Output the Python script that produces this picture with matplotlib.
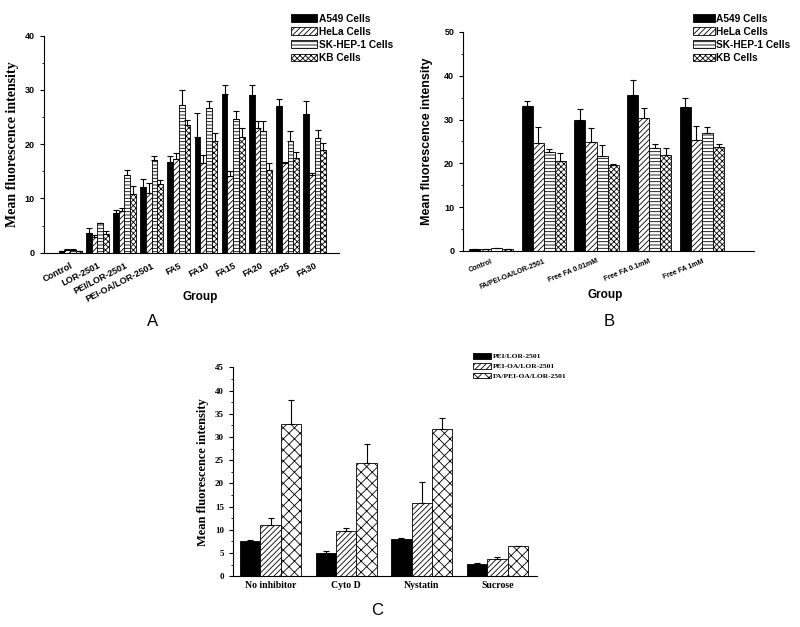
import numpy as np
import matplotlib
matplotlib.use("Agg")
import matplotlib.pyplot as plt

plt.rcParams["hatch.linewidth"] = 0.6

SANS = "Liberation Sans"
SERIF = "Liberation Serif"

# ─── PANEL A DATA ─────────────────────────────────────────────────────────────
groups_a = ["Control", "LOR-2501", "PEI/LOR-2501", "PEI-OA/LOR-2501",
            "FA5", "FA10", "FA15", "FA20", "FA25", "FA30"]
a549_a     = [0.3, 3.7, 7.4, 12.1, 16.8, 21.4, 29.3, 29.0, 27.1, 25.6]
a549_a_err = [0.1, 0.9, 0.5, 1.4, 1.0, 4.3, 1.7, 2.0, 1.3, 2.4]
hela_a     = [0.5, 2.9, 7.6, 11.0, 17.3, 16.5, 14.2, 23.0, 16.5, 14.4]
hela_a_err = [0.1, 0.4, 0.7, 1.9, 1.0, 1.6, 0.8, 1.3, 0.2, 0.2]
sk_a       = [0.5, 5.4, 14.3, 17.1, 27.3, 26.7, 24.7, 22.5, 20.5, 21.1]
sk_a_err   = [0.1, 0.1, 0.9, 0.8, 2.7, 1.2, 1.4, 1.8, 2.0, 1.6]
kb_a       = [0.3, 3.5, 10.8, 12.6, 23.5, 20.5, 21.4, 15.2, 17.5, 18.9]
kb_a_err   = [0.1, 0.5, 1.5, 0.8, 1.0, 1.5, 1.5, 1.3, 1.0, 1.3]

# ─── PANEL B DATA ─────────────────────────────────────────────────────────────
groups_b = ["Control", "FA/PEI-OA/LOR-2501", "Free FA 0.01mM",
            "Free FA 0.1mM", "Free FA 1mM"]
a549_b     = [0.3, 33.0, 30.0, 35.6, 32.9]
a549_b_err = [0.1, 1.3, 2.4, 3.4, 2.1]
hela_b     = [0.4, 24.6, 24.8, 30.3, 25.4]
hela_b_err = [0.1, 3.6, 3.3, 2.3, 3.1]
sk_b       = [0.6, 22.5, 21.7, 23.6, 27.0]
sk_b_err   = [0.1, 0.7, 2.4, 0.7, 1.4]
kb_b       = [0.4, 20.6, 19.5, 21.9, 23.7]
kb_b_err   = [0.1, 1.7, 0.4, 1.5, 0.6]

# ─── PANEL C DATA ─────────────────────────────────────────────────────────────
groups_c = ["No inhibitor", "Cyto D", "Nystatin", "Sucrose"]
pei_c       = [7.5, 5.0, 8.0, 2.7]
pei_c_err   = [0.2, 0.4, 0.3, 0.2]
peioa_c     = [11.1, 9.7, 15.8, 3.8]
peioa_c_err = [1.5, 0.7, 4.4, 0.4]
fa_c        = [32.9, 24.3, 31.7, 6.5]
fa_c_err    = [5.1, 4.2, 2.5, 0.1]

cell_labels = ["A549 Cells", "HeLa Cells", "SK-HEP-1 Cells", "KB Cells"]
cell_styles = [("black", None), ("white", "//////"), ("white", "-----"), ("white", "xxxxxx")]
c_labels = ["PEI/LOR-2501", "PEI-OA/LOR-2501", "FA/PEI-OA/LOR-2501"]
c_styles = [("black", None), ("white", "//////"), ("white", "xxx")]


def draw_bars(ax, series, errs, labels, styles, width):
    n = len(series)
    x = np.arange(len(series[0]))
    for i, (vals, err, lab, (fc, hatch)) in enumerate(zip(series, errs, labels, styles)):
        pos = x + (i - (n - 1) / 2) * width
        vals = np.array(vals)
        err = np.array(err)
        ax.bar(pos, vals, width, color=fc, edgecolor="black", hatch=hatch,
               linewidth=0.6, label=lab, zorder=2)
        ax.errorbar(pos, vals, yerr=[np.zeros_like(err), err], fmt="none",
                    ecolor="black", elinewidth=0.8, capsize=2, capthick=0.8, zorder=3)
    return x


def style_axes(ax, family, tsize):
    ax.spines["top"].set_visible(False)
    ax.spines["right"].set_visible(False)
    ax.tick_params(axis="x", length=0)
    ax.tick_params(axis="y", which="major", length=3, width=0.8, direction="out")
    ax.tick_params(axis="y", which="minor", length=1.5, width=0.6, direction="out")
    for lab in ax.get_yticklabels():
        lab.set_fontfamily(family)
        lab.set_fontweight("bold")
        lab.set_fontsize(tsize)


fig = plt.figure(figsize=(8, 6.27), dpi=100)

# ─── PANEL A ──────────────────────────────────────────────────────────────────
axA = fig.add_axes([0.055, 0.597, 0.369, 0.346])
x = draw_bars(axA, [a549_a, hela_a, sk_a, kb_a],
              [a549_a_err, hela_a_err, sk_a_err, kb_a_err],
              cell_labels, cell_styles, 0.21)
axA.set_xlim(-0.96, 9.9)
axA.set_ylim(0, 40)
axA.set_yticks([0, 10, 20, 30, 40])
axA.set_yticks([5, 15, 25, 35], minor=True)
axA.set_xticks(x)
axA.set_xticklabels(groups_a, rotation=27, ha="right", rotation_mode="anchor",
                    fontfamily=SANS, fontweight="bold", fontsize=6.5)
axA.tick_params(axis="x", pad=6)
style_axes(axA, SANS, 6.5)
axA.set_ylabel("Mean fluorescence intensity", fontfamily=SERIF, fontweight="bold", fontsize=10)
axA.set_xlabel("Group", fontfamily=SANS, fontweight="bold", fontsize=8.5)
axA.xaxis.set_label_coords(0.53, -0.175)
axA.legend(loc="upper left", bbox_to_anchor=(0.364, 0.978), bbox_transform=fig.transFigure,
           frameon=False, handlelength=2.55, handleheight=0.8, labelspacing=0.3,
           handletextpad=0.15, borderaxespad=0, borderpad=0,
           prop={"family": SANS, "weight": "bold", "size": 7.3})
fig.text(0.191, 0.488, "A", ha="center", va="center", fontfamily=SANS, fontsize=12)

# ─── PANEL B ──────────────────────────────────────────────────────────────────
axB = fig.add_axes([0.579, 0.6, 0.363, 0.349])
x = draw_bars(axB, [a549_b, hela_b, sk_b, kb_b],
              [a549_b_err, hela_b_err, sk_b_err, kb_b_err],
              cell_labels, cell_styles, 0.21)
axB.set_xlim(-0.53, 4.98)
axB.set_ylim(0, 50)
axB.set_yticks([0, 10, 20, 30, 40, 50])
axB.set_yticks([5, 15, 25, 35, 45], minor=True)
axB.set_xticks(x)
axB.set_xticklabels(groups_b, rotation=22, ha="right", rotation_mode="anchor",
                    fontfamily=SANS, fontweight="bold", fontsize=5)
axB.tick_params(axis="x", pad=5)
style_axes(axB, SANS, 6.5)
axB.set_ylabel("Mean fluorescence intensity", fontfamily=SANS, fontweight="bold", fontsize=9,
               labelpad=8)
axB.set_xlabel("Group", fontfamily=SANS, fontweight="bold", fontsize=8.5)
axB.xaxis.set_label_coords(0.49, -0.175)
axB.legend(loc="upper left", bbox_to_anchor=(0.866, 0.978), bbox_transform=fig.transFigure,
           frameon=False, handlelength=2.15, handleheight=0.8, labelspacing=0.3,
           handletextpad=0.15, borderaxespad=0, borderpad=0,
           prop={"family": SANS, "weight": "bold", "size": 7.3})
fig.text(0.761, 0.488, "B", ha="center", va="center", fontfamily=SANS, fontsize=12)

# ─── PANEL C ──────────────────────────────────────────────────────────────────
axC = fig.add_axes([0.291, 0.081, 0.38, 0.333])
x = draw_bars(axC, [pei_c, peioa_c, fa_c], [pei_c_err, peioa_c_err, fa_c_err],
              c_labels, c_styles, 0.27)
axC.set_xlim(-0.5, 3.52)
axC.set_ylim(0, 45)
axC.set_yticks(np.arange(0, 46, 5))
axC.set_yticks(np.arange(2.5, 45, 5), minor=True)
axC.set_xticks(x)
axC.set_xticklabels(groups_c, fontfamily=SERIF, fontweight="bold", fontsize=7)
style_axes(axC, SERIF, 6.5)
axC.set_ylabel("Mean fluorescence intensity", fontfamily=SERIF, fontweight="bold", fontsize=9)
axC.legend(loc="upper left", bbox_to_anchor=(0.591, 0.437), bbox_transform=fig.transFigure,
           frameon=False, handlelength=2.4, handleheight=0.8, labelspacing=0.45,
           handletextpad=0.3, borderaxespad=0, borderpad=0,
           prop={"family": SERIF, "weight": "bold", "size": 5.4})
fig.text(0.471, 0.027, "C", ha="center", va="center", fontfamily=SANS, fontsize=12)

fig.savefig("out.png", dpi=100, facecolor="white")
